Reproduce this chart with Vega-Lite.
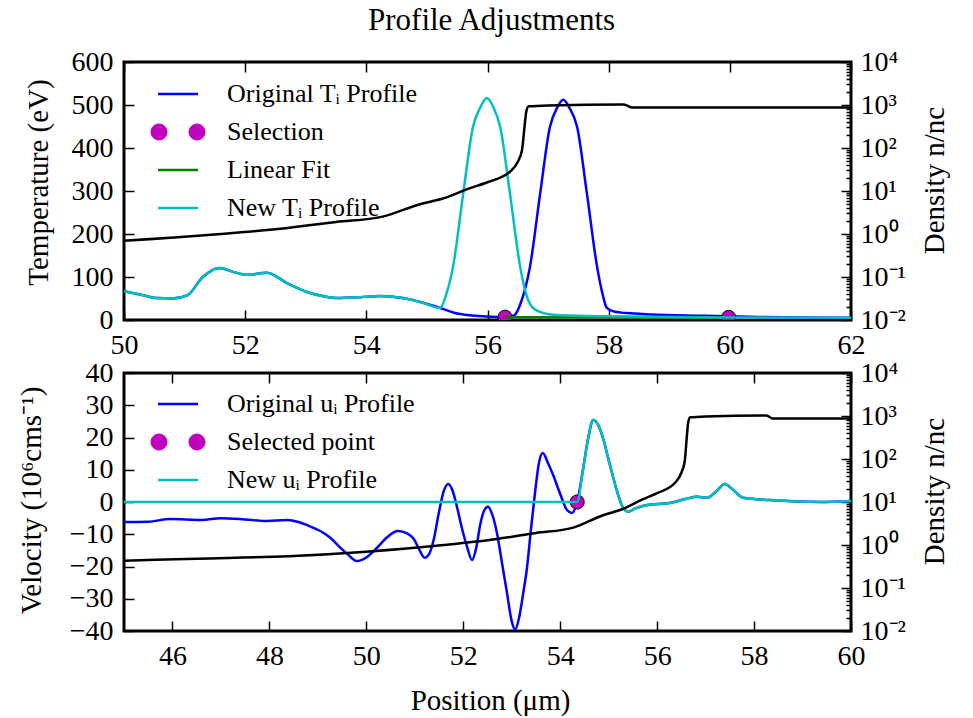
{
  "$schema": "https://vega.github.io/schema/vega-lite/v6.json",
  "autosize": {"type": "none"},
  "padding": {"left": 124, "top": 62, "right": 849, "bottom": 656},
  "background": "white",
  "title": {"text": "Profile Adjustments", "font": "Liberation Serif, serif", "fontSize": 31, "fontWeight": "normal", "color": "black", "anchor": "start", "frame": "group", "dx": 244, "offset": 10},
  "spacing": 53,
  "bounds": "flush",
  "resolve": {"scale": {"color": "independent"}, "legend": {"color": "independent"}},
  "datasets": {
    "temp": [
      {"x": 50, "y": 67, "s": "Original Tᵢ Profile"},
      {"x": 50.3, "y": 58, "s": "Original Tᵢ Profile"},
      {"x": 50.55, "y": 51, "s": "Original Tᵢ Profile"},
      {"x": 50.8, "y": 50, "s": "Original Tᵢ Profile"},
      {"x": 51.05, "y": 58, "s": "Original Tᵢ Profile"},
      {"x": 51.3, "y": 100, "s": "Original Tᵢ Profile"},
      {"x": 51.58, "y": 121, "s": "Original Tᵢ Profile"},
      {"x": 51.8, "y": 112, "s": "Original Tᵢ Profile"},
      {"x": 52.03, "y": 105, "s": "Original Tᵢ Profile"},
      {"x": 52.36, "y": 110, "s": "Original Tᵢ Profile"},
      {"x": 52.69, "y": 86, "s": "Original Tᵢ Profile"},
      {"x": 53.02, "y": 65, "s": "Original Tᵢ Profile"},
      {"x": 53.3, "y": 55, "s": "Original Tᵢ Profile"},
      {"x": 53.52, "y": 51, "s": "Original Tᵢ Profile"},
      {"x": 53.9, "y": 53, "s": "Original Tᵢ Profile"},
      {"x": 54.23, "y": 56, "s": "Original Tᵢ Profile"},
      {"x": 54.6, "y": 51, "s": "Original Tᵢ Profile"},
      {"x": 54.89, "y": 42, "s": "Original Tᵢ Profile"},
      {"x": 55.22, "y": 28, "s": "Original Tᵢ Profile"},
      {"x": 55.45, "y": 17, "s": "Original Tᵢ Profile"},
      {"x": 55.7, "y": 11, "s": "Original Tᵢ Profile"},
      {"x": 56.0, "y": 8, "s": "Original Tᵢ Profile"},
      {"x": 56.3, "y": 6, "s": "Original Tᵢ Profile"},
      {"x": 56.45, "y": 12, "s": "Original Tᵢ Profile"},
      {"x": 56.55, "y": 40, "s": "Original Tᵢ Profile"},
      {"x": 56.7, "y": 123, "s": "Original Tᵢ Profile"},
      {"x": 56.87, "y": 295, "s": "Original Tᵢ Profile"},
      {"x": 57.03, "y": 449, "s": "Original Tᵢ Profile"},
      {"x": 57.15, "y": 494, "s": "Original Tᵢ Profile"},
      {"x": 57.25, "y": 512, "s": "Original Tᵢ Profile"},
      {"x": 57.35, "y": 494, "s": "Original Tᵢ Profile"},
      {"x": 57.48, "y": 449, "s": "Original Tᵢ Profile"},
      {"x": 57.64, "y": 295, "s": "Original Tᵢ Profile"},
      {"x": 57.81, "y": 123, "s": "Original Tᵢ Profile"},
      {"x": 57.9, "y": 60, "s": "Original Tᵢ Profile"},
      {"x": 57.97, "y": 28, "s": "Original Tᵢ Profile"},
      {"x": 58.1, "y": 19, "s": "Original Tᵢ Profile"},
      {"x": 58.3, "y": 16, "s": "Original Tᵢ Profile"},
      {"x": 58.7, "y": 13, "s": "Original Tᵢ Profile"},
      {"x": 59.5, "y": 10, "s": "Original Tᵢ Profile"},
      {"x": 60.5, "y": 7, "s": "Original Tᵢ Profile"},
      {"x": 62, "y": 5, "s": "Original Tᵢ Profile"},
      {"x": 56.29, "y": 6.5, "s": "Selection"},
      {"x": 59.98, "y": 6.0, "s": "Selection"},
      {"x": 56.29, "y": 6.5, "s": "Linear Fit"},
      {"x": 59.98, "y": 6.0, "s": "Linear Fit"},
      {"x": 50, "y": 67, "s": "New Tᵢ Profile"},
      {"x": 50.3, "y": 58, "s": "New Tᵢ Profile"},
      {"x": 50.55, "y": 51, "s": "New Tᵢ Profile"},
      {"x": 50.8, "y": 50, "s": "New Tᵢ Profile"},
      {"x": 51.05, "y": 58, "s": "New Tᵢ Profile"},
      {"x": 51.3, "y": 100, "s": "New Tᵢ Profile"},
      {"x": 51.58, "y": 121, "s": "New Tᵢ Profile"},
      {"x": 51.8, "y": 112, "s": "New Tᵢ Profile"},
      {"x": 52.03, "y": 105, "s": "New Tᵢ Profile"},
      {"x": 52.36, "y": 110, "s": "New Tᵢ Profile"},
      {"x": 52.69, "y": 86, "s": "New Tᵢ Profile"},
      {"x": 53.02, "y": 65, "s": "New Tᵢ Profile"},
      {"x": 53.3, "y": 55, "s": "New Tᵢ Profile"},
      {"x": 53.52, "y": 51, "s": "New Tᵢ Profile"},
      {"x": 53.9, "y": 53, "s": "New Tᵢ Profile"},
      {"x": 54.23, "y": 56, "s": "New Tᵢ Profile"},
      {"x": 54.6, "y": 51, "s": "New Tᵢ Profile"},
      {"x": 54.89, "y": 42, "s": "New Tᵢ Profile"},
      {"x": 55.22, "y": 28, "s": "New Tᵢ Profile"},
      {"x": 55.32, "y": 60, "s": "New Tᵢ Profile"},
      {"x": 55.43, "y": 123, "s": "New Tᵢ Profile"},
      {"x": 55.6, "y": 295, "s": "New Tᵢ Profile"},
      {"x": 55.76, "y": 449, "s": "New Tᵢ Profile"},
      {"x": 55.88, "y": 494, "s": "New Tᵢ Profile"},
      {"x": 55.99, "y": 516, "s": "New Tᵢ Profile"},
      {"x": 56.1, "y": 494, "s": "New Tᵢ Profile"},
      {"x": 56.21, "y": 449, "s": "New Tᵢ Profile"},
      {"x": 56.37, "y": 295, "s": "New Tᵢ Profile"},
      {"x": 56.54, "y": 123, "s": "New Tᵢ Profile"},
      {"x": 56.65, "y": 55, "s": "New Tᵢ Profile"},
      {"x": 56.75, "y": 28, "s": "New Tᵢ Profile"},
      {"x": 56.9, "y": 17, "s": "New Tᵢ Profile"},
      {"x": 57.08, "y": 12, "s": "New Tᵢ Profile"},
      {"x": 57.5, "y": 10, "s": "New Tᵢ Profile"},
      {"x": 58, "y": 8.5, "s": "New Tᵢ Profile"},
      {"x": 59, "y": 7, "s": "New Tᵢ Profile"},
      {"x": 60, "y": 6, "s": "New Tᵢ Profile"},
      {"x": 62, "y": 5, "s": "New Tᵢ Profile"}
    ],
    "vel": [
      {"x": 45, "y": -6.2, "s": "Original uᵢ Profile"},
      {"x": 45.5, "y": -6.1, "s": "Original uᵢ Profile"},
      {"x": 45.95, "y": -5.3, "s": "Original uᵢ Profile"},
      {"x": 46.6, "y": -5.6, "s": "Original uᵢ Profile"},
      {"x": 47.0, "y": -5.0, "s": "Original uᵢ Profile"},
      {"x": 47.5, "y": -5.4, "s": "Original uᵢ Profile"},
      {"x": 47.95, "y": -5.9, "s": "Original uᵢ Profile"},
      {"x": 48.36, "y": -5.6, "s": "Original uᵢ Profile"},
      {"x": 48.6, "y": -6.2, "s": "Original uᵢ Profile"},
      {"x": 48.8, "y": -7.3, "s": "Original uᵢ Profile"},
      {"x": 49.05, "y": -9, "s": "Original uᵢ Profile"},
      {"x": 49.25, "y": -11, "s": "Original uᵢ Profile"},
      {"x": 49.45, "y": -14, "s": "Original uᵢ Profile"},
      {"x": 49.6, "y": -16, "s": "Original uᵢ Profile"},
      {"x": 49.8, "y": -18.3, "s": "Original uᵢ Profile"},
      {"x": 50.0, "y": -17.2, "s": "Original uᵢ Profile"},
      {"x": 50.2, "y": -14.5, "s": "Original uᵢ Profile"},
      {"x": 50.43, "y": -10.9, "s": "Original uᵢ Profile"},
      {"x": 50.65, "y": -9.0, "s": "Original uᵢ Profile"},
      {"x": 50.85, "y": -9.8, "s": "Original uᵢ Profile"},
      {"x": 50.98, "y": -11.5, "s": "Original uᵢ Profile"},
      {"x": 51.1, "y": -15, "s": "Original uᵢ Profile"},
      {"x": 51.2, "y": -17.3, "s": "Original uᵢ Profile"},
      {"x": 51.3, "y": -16, "s": "Original uᵢ Profile"},
      {"x": 51.4, "y": -11, "s": "Original uᵢ Profile"},
      {"x": 51.5, "y": -3, "s": "Original uᵢ Profile"},
      {"x": 51.6, "y": 3.5, "s": "Original uᵢ Profile"},
      {"x": 51.69, "y": 5.6, "s": "Original uᵢ Profile"},
      {"x": 51.78, "y": 3.5, "s": "Original uᵢ Profile"},
      {"x": 51.87, "y": -1.5, "s": "Original uᵢ Profile"},
      {"x": 51.97, "y": -8, "s": "Original uᵢ Profile"},
      {"x": 52.08, "y": -14, "s": "Original uᵢ Profile"},
      {"x": 52.18, "y": -18, "s": "Original uᵢ Profile"},
      {"x": 52.27, "y": -14, "s": "Original uᵢ Profile"},
      {"x": 52.35, "y": -7, "s": "Original uᵢ Profile"},
      {"x": 52.42, "y": -3, "s": "Original uᵢ Profile"},
      {"x": 52.51, "y": -1.5, "s": "Original uᵢ Profile"},
      {"x": 52.6, "y": -4, "s": "Original uᵢ Profile"},
      {"x": 52.7, "y": -10, "s": "Original uᵢ Profile"},
      {"x": 52.8, "y": -19, "s": "Original uᵢ Profile"},
      {"x": 52.9, "y": -28, "s": "Original uᵢ Profile"},
      {"x": 53.0, "y": -37, "s": "Original uᵢ Profile"},
      {"x": 53.07, "y": -39.5, "s": "Original uᵢ Profile"},
      {"x": 53.15, "y": -36, "s": "Original uᵢ Profile"},
      {"x": 53.25, "y": -27, "s": "Original uᵢ Profile"},
      {"x": 53.31, "y": -21, "s": "Original uᵢ Profile"},
      {"x": 53.4, "y": -8, "s": "Original uᵢ Profile"},
      {"x": 53.48, "y": 2.8, "s": "Original uᵢ Profile"},
      {"x": 53.56, "y": 12, "s": "Original uᵢ Profile"},
      {"x": 53.64, "y": 15.2, "s": "Original uᵢ Profile"},
      {"x": 53.75, "y": 12, "s": "Original uᵢ Profile"},
      {"x": 53.85, "y": 8.5, "s": "Original uᵢ Profile"},
      {"x": 54.0, "y": 2.5, "s": "Original uᵢ Profile"},
      {"x": 54.14, "y": -2.5, "s": "Original uᵢ Profile"},
      {"x": 54.24, "y": -3.4, "s": "Original uᵢ Profile"},
      {"x": 54.35, "y": 0, "s": "Original uᵢ Profile"},
      {"x": 54.47, "y": 10, "s": "Original uᵢ Profile"},
      {"x": 54.58, "y": 20, "s": "Original uᵢ Profile"},
      {"x": 54.68, "y": 25.4, "s": "Original uᵢ Profile"},
      {"x": 54.78, "y": 24, "s": "Original uᵢ Profile"},
      {"x": 54.88, "y": 20, "s": "Original uᵢ Profile"},
      {"x": 55.0, "y": 13, "s": "Original uᵢ Profile"},
      {"x": 55.09, "y": 7.8, "s": "Original uᵢ Profile"},
      {"x": 55.2, "y": 2, "s": "Original uᵢ Profile"},
      {"x": 55.3, "y": -1.9, "s": "Original uᵢ Profile"},
      {"x": 55.4, "y": -3, "s": "Original uᵢ Profile"},
      {"x": 55.55, "y": -2, "s": "Original uᵢ Profile"},
      {"x": 55.79, "y": -0.9, "s": "Original uᵢ Profile"},
      {"x": 56.26, "y": -0.3, "s": "Original uᵢ Profile"},
      {"x": 56.6, "y": 1, "s": "Original uᵢ Profile"},
      {"x": 56.82, "y": 1.6, "s": "Original uᵢ Profile"},
      {"x": 57.03, "y": 1.3, "s": "Original uᵢ Profile"},
      {"x": 57.2, "y": 3, "s": "Original uᵢ Profile"},
      {"x": 57.4, "y": 5.6, "s": "Original uᵢ Profile"},
      {"x": 57.55, "y": 4, "s": "Original uᵢ Profile"},
      {"x": 57.77, "y": 1.3, "s": "Original uᵢ Profile"},
      {"x": 58.33, "y": 0.6, "s": "Original uᵢ Profile"},
      {"x": 59.36, "y": 0, "s": "Original uᵢ Profile"},
      {"x": 60, "y": 0.3, "s": "Original uᵢ Profile"},
      {"x": 54.35, "y": 0, "s": "Selected point"},
      {"x": 45, "y": 0, "s": "New uᵢ Profile"},
      {"x": 54.35, "y": 0, "s": "New uᵢ Profile"},
      {"x": 54.47, "y": 10, "s": "New uᵢ Profile"},
      {"x": 54.58, "y": 20, "s": "New uᵢ Profile"},
      {"x": 54.68, "y": 25.4, "s": "New uᵢ Profile"},
      {"x": 54.78, "y": 24, "s": "New uᵢ Profile"},
      {"x": 54.88, "y": 20, "s": "New uᵢ Profile"},
      {"x": 55.0, "y": 13, "s": "New uᵢ Profile"},
      {"x": 55.09, "y": 7.8, "s": "New uᵢ Profile"},
      {"x": 55.2, "y": 2, "s": "New uᵢ Profile"},
      {"x": 55.3, "y": -1.9, "s": "New uᵢ Profile"},
      {"x": 55.4, "y": -3, "s": "New uᵢ Profile"},
      {"x": 55.55, "y": -2, "s": "New uᵢ Profile"},
      {"x": 55.79, "y": -0.9, "s": "New uᵢ Profile"},
      {"x": 56.26, "y": -0.3, "s": "New uᵢ Profile"},
      {"x": 56.6, "y": 1, "s": "New uᵢ Profile"},
      {"x": 56.82, "y": 1.6, "s": "New uᵢ Profile"},
      {"x": 57.03, "y": 1.3, "s": "New uᵢ Profile"},
      {"x": 57.2, "y": 3, "s": "New uᵢ Profile"},
      {"x": 57.4, "y": 5.6, "s": "New uᵢ Profile"},
      {"x": 57.55, "y": 4, "s": "New uᵢ Profile"},
      {"x": 57.77, "y": 1.3, "s": "New uᵢ Profile"},
      {"x": 58.33, "y": 0.6, "s": "New uᵢ Profile"},
      {"x": 59.36, "y": 0, "s": "New uᵢ Profile"},
      {"x": 60, "y": 0.3, "s": "New uᵢ Profile"}
    ],
    "dens": [
      {"x": 45, "n": 0.43},
      {"x": 46.5, "n": 0.48},
      {"x": 48.4, "n": 0.55},
      {"x": 50, "n": 0.70},
      {"x": 51.6, "n": 1.0},
      {"x": 52.7, "n": 1.38},
      {"x": 53.5, "n": 1.9},
      {"x": 54.25, "n": 2.5},
      {"x": 54.9, "n": 5.0},
      {"x": 55.25, "n": 6.6},
      {"x": 55.7, "n": 11.5},
      {"x": 56.0, "n": 16},
      {"x": 56.37, "n": 28},
      {"x": 56.5, "n": 48},
      {"x": 56.57, "n": 90},
      {"x": 56.61, "n": 300},
      {"x": 56.64, "n": 700},
      {"x": 56.68, "n": 930},
      {"x": 57.0, "n": 980},
      {"x": 58.25, "n": 1030},
      {"x": 58.3, "n": 980},
      {"x": 58.38, "n": 870},
      {"x": 62, "n": 870}
    ]
  },
  "vconcat": [
    {
      "width": 727,
      "height": 258,
      "resolve": {"scale": {"y": "independent", "x": "shared"}, "axis": {"x": "independent", "y": "independent"}},
      "layer": [
        {
          "data": {"name": "temp"},
          "transform": [{"filter": {"field": "s", "equal": "Original Tᵢ Profile"}}],
          "mark": {"type": "line", "strokeWidth": 2.5, "clip": true, "interpolate": "monotone"},
          "encoding": {
            "x": {"field": "x", "type": "quantitative", "scale": {"domain": [50, 62], "nice": false}, "axis": {"orient": "bottom", "values": [50, 52, 54, 56, 58, 60, 62], "title": null}},
            "y": {"field": "y", "type": "quantitative", "scale": {"domain": [0, 600], "nice": false}, "axis": {"orient": "left", "values": [0, 100, 200, 300, 400, 500, 600], "title": "Temperature (eV)", "titleAngle": 270, "titleBaseline": "alphabetic", "titleX": -77, "titleY": 120}},
            "color": {
              "field": "s", "type": "nominal",
              "scale": {"domain": ["Original Tᵢ Profile", "Selection", "Linear Fit", "New Tᵢ Profile"], "range": ["#0000ff", "#bf00bf", "#008000", "#00bfbf"]},
              "legend": {
                "orient": "none", "legendX": 41, "legendY": 19, "title": null, "padding": 0,
                "labelFont": "Liberation Serif, serif", "labelFontSize": 26, "labelColor": "black", "labelOffset": 36, "labelLimit": 400,
                "symbolSize": 1600, "symbolType": "stroke", "rowPadding": 12,
                "encode": {"symbols": {"update": {
                  "shape": {"signal": "(datum.value === 'Selection' || datum.value === 'Selected point') ? 'M -1.35 0 A 0.4 0.4 0 1 0 -0.55 0 A 0.4 0.4 0 1 0 -1.35 0 Z M 0.55 0 A 0.4 0.4 0 1 0 1.35 0 A 0.4 0.4 0 1 0 0.55 0 Z' : 'stroke'"},
                  "fill": {"signal": "(datum.value === 'Selection' || datum.value === 'Selected point') ? '#bf00bf' : 'transparent'"},
                  "stroke": {"signal": "(datum.value === 'Selection' || datum.value === 'Selected point') ? 'black' : (datum.value === 'Linear Fit' ? '#008000' : (indexof(datum.value, 'New') === 0 ? '#00bfbf' : '#0000ff'))"},
                  "strokeWidth": {"signal": "(datum.value === 'Selection' || datum.value === 'Selected point') ? 1 : 2.5"},
                  "size": {"value": 1600},
                  "opacity": {"value": 1}, "fillOpacity": {"value": 1}, "strokeOpacity": {"value": 1}
                }}}
              }
            }
          }
        },
        {
          "data": {"name": "temp"},
          "transform": [{"filter": {"field": "s", "equal": "Selection"}}],
          "mark": {"type": "point", "filled": true, "size": 200, "stroke": "black", "strokeWidth": 1, "opacity": 1, "clip": true},
          "encoding": {
            "x": {"field": "x", "type": "quantitative", "scale": {"domain": [50, 62], "nice": false}, "axis": null},
            "y": {"field": "y", "type": "quantitative", "scale": {"domain": [0, 600], "nice": false}, "axis": null},
            "color": {"field": "s", "type": "nominal"}
          }
        },
        {
          "data": {"name": "temp"},
          "transform": [{"filter": {"field": "s", "equal": "Linear Fit"}}],
          "mark": {"type": "line", "strokeWidth": 2.5, "clip": true},
          "encoding": {
            "x": {"field": "x", "type": "quantitative", "scale": {"domain": [50, 62], "nice": false}, "axis": {"orient": "top", "values": [50, 52, 54, 56, 58, 60, 62], "labels": false, "title": null}},
            "y": {"field": "y", "type": "quantitative", "scale": {"domain": [0, 600], "nice": false}, "axis": null},
            "color": {"field": "s", "type": "nominal"}
          }
        },
        {
          "data": {"name": "temp"},
          "transform": [{"filter": {"field": "s", "equal": "New Tᵢ Profile"}}],
          "mark": {"type": "line", "strokeWidth": 2.5, "clip": true, "interpolate": "monotone"},
          "encoding": {
            "x": {"field": "x", "type": "quantitative", "scale": {"domain": [50, 62], "nice": false}, "axis": null},
            "y": {"field": "y", "type": "quantitative", "scale": {"domain": [0, 600], "nice": false}, "axis": null},
            "color": {"field": "s", "type": "nominal"}
          }
        },
        {
          "data": {"name": "dens"},
          "mark": {"type": "line", "strokeWidth": 2.5, "color": "black", "clip": true, "interpolate": "monotone"},
          "encoding": {
            "x": {"field": "x", "type": "quantitative", "scale": {"domain": [50, 62], "nice": false}, "axis": null},
            "y": {"field": "n", "type": "quantitative", "scale": {"type": "log", "domain": [0.01, 10000], "nice": false}, "axis": {"orient": "right", "values": [0.01, 0.1, 1, 10, 100, 1000, 10000], "labelPadding": 19, "labelExpr": "datum.value >= 9999 ? '10⁴' : datum.value >= 999 ? '10³' : datum.value >= 99 ? '10²' : datum.value >= 9 ? '10¹' : datum.value >= 0.9 ? '10⁰' : datum.value >= 0.09 ? '10⁻¹' : '10⁻²'", "title": "Density n/nc", "titleAngle": 270, "titleBaseline": "alphabetic", "titleX": 92, "titleY": 118}}
          }
        },
        {
          "data": {"name": "dens"},
          "mark": {"type": "point", "opacity": 0},
          "encoding": {
            "x": {"field": "x", "type": "quantitative", "scale": {"domain": [50, 62], "nice": false}, "axis": null},
            "y": {"field": "n", "type": "quantitative", "scale": {"type": "log", "domain": [0.01, 10000], "nice": false}, "axis": {"orient": "right", "values": [0.02, 0.03, 0.04, 0.05, 0.06, 0.07, 0.08, 0.09, 0.2, 0.3, 0.4, 0.5, 0.6, 0.7, 0.8, 0.9, 2, 3, 4, 5, 6, 7, 8, 9, 20, 30, 40, 50, 60, 70, 80, 90, 200, 300, 400, 500, 600, 700, 800, 900, 2000, 3000, 4000, 5000, 6000, 7000, 8000, 9000], "labels": false, "tickSize": -5, "title": null}}
          }
        }
      ]
    },
    {
      "width": 727,
      "height": 258,
      "resolve": {"scale": {"y": "independent", "x": "shared"}, "axis": {"x": "independent", "y": "independent"}},
      "layer": [
        {
          "data": {"name": "vel"},
          "transform": [{"filter": {"field": "s", "equal": "Original uᵢ Profile"}}],
          "mark": {"type": "line", "strokeWidth": 2.5, "clip": true, "interpolate": "monotone"},
          "encoding": {
            "x": {"field": "x", "type": "quantitative", "scale": {"domain": [45, 60], "nice": false}, "axis": {"orient": "bottom", "values": [46, 48, 50, 52, 54, 56, 58, 60], "title": "Position (μm)", "titleBaseline": "alphabetic", "titleX": 366, "titleY": 78}},
            "y": {"field": "y", "type": "quantitative", "scale": {"domain": [-40, 40], "nice": false}, "axis": {"orient": "left", "values": [-40, -30, -20, -10, 0, 10, 20, 30, 40], "title": "Velocity (10⁶cms⁻¹)", "titleAngle": 270, "titleBaseline": "alphabetic", "titleX": -84, "titleY": 127}},
            "color": {
              "field": "s", "type": "nominal",
              "scale": {"domain": ["Original uᵢ Profile", "Selected point", "New uᵢ Profile"], "range": ["#0000ff", "#bf00bf", "#00bfbf"]},
              "legend": {
                "orient": "none", "legendX": 41, "legendY": 18, "title": null, "padding": 0,
                "labelFont": "Liberation Serif, serif", "labelFontSize": 26, "labelColor": "black", "labelOffset": 36, "labelLimit": 400,
                "symbolSize": 1600, "symbolType": "stroke", "rowPadding": 12,
                "encode": {"symbols": {"update": {
                  "shape": {"signal": "(datum.value === 'Selection' || datum.value === 'Selected point') ? 'M -1.35 0 A 0.4 0.4 0 1 0 -0.55 0 A 0.4 0.4 0 1 0 -1.35 0 Z M 0.55 0 A 0.4 0.4 0 1 0 1.35 0 A 0.4 0.4 0 1 0 0.55 0 Z' : 'stroke'"},
                  "fill": {"signal": "(datum.value === 'Selection' || datum.value === 'Selected point') ? '#bf00bf' : 'transparent'"},
                  "stroke": {"signal": "(datum.value === 'Selection' || datum.value === 'Selected point') ? 'black' : (datum.value === 'Linear Fit' ? '#008000' : (indexof(datum.value, 'New') === 0 ? '#00bfbf' : '#0000ff'))"},
                  "strokeWidth": {"signal": "(datum.value === 'Selection' || datum.value === 'Selected point') ? 1 : 2.5"},
                  "size": {"value": 1600},
                  "opacity": {"value": 1}, "fillOpacity": {"value": 1}, "strokeOpacity": {"value": 1}
                }}}
              }
            }
          }
        },
        {
          "data": {"name": "vel"},
          "transform": [{"filter": {"field": "s", "equal": "Selected point"}}],
          "mark": {"type": "point", "filled": true, "size": 200, "stroke": "black", "strokeWidth": 1, "opacity": 1, "clip": true},
          "encoding": {
            "x": {"field": "x", "type": "quantitative", "scale": {"domain": [45, 60], "nice": false}, "axis": {"orient": "top", "values": [46, 48, 50, 52, 54, 56, 58, 60], "labels": false, "title": null}},
            "y": {"field": "y", "type": "quantitative", "scale": {"domain": [-40, 40], "nice": false}, "axis": null},
            "color": {"field": "s", "type": "nominal"}
          }
        },
        {
          "data": {"name": "vel"},
          "transform": [{"filter": {"field": "s", "equal": "New uᵢ Profile"}}],
          "mark": {"type": "line", "strokeWidth": 2.5, "clip": true, "interpolate": "monotone"},
          "encoding": {
            "x": {"field": "x", "type": "quantitative", "scale": {"domain": [45, 60], "nice": false}, "axis": null},
            "y": {"field": "y", "type": "quantitative", "scale": {"domain": [-40, 40], "nice": false}, "axis": null},
            "color": {"field": "s", "type": "nominal"}
          }
        },
        {
          "data": {"name": "dens"},
          "mark": {"type": "line", "strokeWidth": 2.5, "color": "black", "clip": true, "interpolate": "monotone"},
          "encoding": {
            "x": {"field": "x", "type": "quantitative", "scale": {"domain": [45, 60], "nice": false}, "axis": null},
            "y": {"field": "n", "type": "quantitative", "scale": {"type": "log", "domain": [0.01, 10000], "nice": false}, "axis": {"orient": "right", "values": [0.01, 0.1, 1, 10, 100, 1000, 10000], "labelPadding": 19, "labelExpr": "datum.value >= 9999 ? '10⁴' : datum.value >= 999 ? '10³' : datum.value >= 99 ? '10²' : datum.value >= 9 ? '10¹' : datum.value >= 0.9 ? '10⁰' : datum.value >= 0.09 ? '10⁻¹' : '10⁻²'", "title": "Density n/nc", "titleAngle": 270, "titleBaseline": "alphabetic", "titleX": 92, "titleY": 118}}
          }
        },
        {
          "data": {"name": "dens"},
          "mark": {"type": "point", "opacity": 0},
          "encoding": {
            "x": {"field": "x", "type": "quantitative", "scale": {"domain": [45, 60], "nice": false}, "axis": null},
            "y": {"field": "n", "type": "quantitative", "scale": {"type": "log", "domain": [0.01, 10000], "nice": false}, "axis": {"orient": "right", "values": [0.02, 0.03, 0.04, 0.05, 0.06, 0.07, 0.08, 0.09, 0.2, 0.3, 0.4, 0.5, 0.6, 0.7, 0.8, 0.9, 2, 3, 4, 5, 6, 7, 8, 9, 20, 30, 40, 50, 60, 70, 80, 90, 200, 300, 400, 500, 600, 700, 800, 900, 2000, 3000, 4000, 5000, 6000, 7000, 8000, 9000], "labels": false, "tickSize": -5, "title": null}}
          }
        }
      ]
    }
  ],
  "config": {
    "font": "Liberation Serif, serif",
    "view": {"stroke": "black", "strokeWidth": 3},
    "axis": {"grid": false, "domain": false, "labelFont": "Liberation Serif, serif", "labelFontSize": 28, "labelColor": "black", "titleFont": "Liberation Serif, serif", "titleFontSize": 29, "titleFontWeight": "normal", "titleColor": "black", "tickColor": "black", "tickWidth": 1.5, "tickSize": -10, "labelPadding": 21, "labelFlush": false, "labelOverlap": false, "labelBound": false}
  }
}
